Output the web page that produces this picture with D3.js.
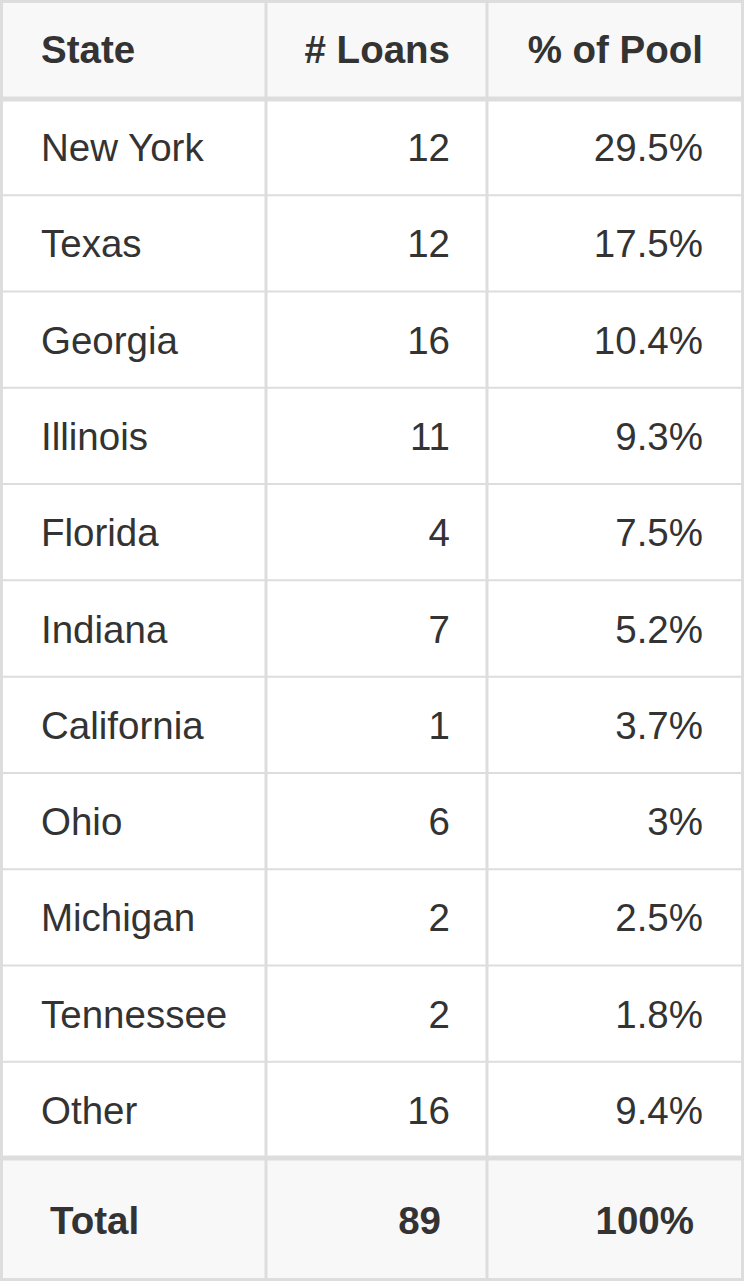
<!DOCTYPE html>
<html>
<head>
<meta charset="utf-8">
<script src="https://cdn.jsdelivr.net/npm/d3@7"></script>
<style>
  body { margin: 0; background: #fff; }
  svg text { font-family: "Liberation Sans", Arial, sans-serif; fill: #333; }
</style>
</head>
<body>
<script>
const headers = ['State', '# Loans', '% of Pool'];
const states = ['New York', 'Texas', 'Georgia', 'Illinois', 'Florida', 'Indiana', 'California', 'Ohio', 'Michigan', 'Tennessee', 'Other'];
const loans = [12, 12, 16, 11, 4, 7, 1, 6, 2, 2, 16];
const pool = ['29.5%', '17.5%', '10.4%', '9.3%', '7.5%', '5.2%', '3.7%', '3%', '2.5%', '1.8%', '9.4%'];
const totals = ['Total', '89', '100%'];

const w = 744, h = 1281;
const headH = 99, footTop = 1158;
const colEdges = [0, 266, 487, 744];
const border = '#ddd';

const svg = d3.select('body').append('svg').attr('width', w).attr('height', h);

const y = d3.scaleBand().domain(d3.range(states.length)).range([headH, footTop]);

// backgrounds
svg.append('rect').attr('x', 0).attr('y', 0).attr('width', w).attr('height', headH).attr('fill', '#f8f8f8');
svg.append('rect').attr('x', 0).attr('y', footTop).attr('width', w).attr('height', h - footTop).attr('fill', '#f8f8f8');

// row lines
svg.selectAll('line.row').data(d3.range(1, states.length)).enter().append('line')
  .attr('x1', 0).attr('x2', w)
  .attr('y1', d => y(d)).attr('y2', d => y(d))
  .attr('stroke', border).attr('stroke-width', 2);

// header / footer thick lines
[headH, footTop].forEach(v => {
  svg.append('line').attr('x1', 0).attr('x2', w).attr('y1', v).attr('y2', v)
    .attr('stroke', border).attr('stroke-width', 5);
});

// column lines
colEdges.slice(1, 3).forEach(x => {
  svg.append('line').attr('x1', x).attr('x2', x).attr('y1', 0).attr('y2', h)
    .attr('stroke', border).attr('stroke-width', 3);
});

// outer border
svg.append('rect').attr('x', 1.5).attr('y', 1.5).attr('width', w - 3).attr('height', h - 3)
  .attr('fill', 'none').attr('stroke', border).attr('stroke-width', 3);

const fs = 38.5;
// left pad for col 0, right edges for cols 1 and 2
const bodyX = [41, 450, 703];
const footX = [50, 441, 694];
function anchor(col) { return col === 0 ? 'start' : 'end'; }

// header
svg.selectAll('text.head').data(headers).enter().append('text')
  .attr('x', (d, i) => bodyX[i]).attr('y', headH / 2 + 13)
  .attr('text-anchor', (d, i) => anchor(i))
  .attr('font-size', fs).attr('font-weight', 'bold').text(d => d);

// body
const rows = states.map((s, i) => [s, String(loans[i]), pool[i]]);
const g = svg.selectAll('g.r').data(rows).enter().append('g')
  .attr('transform', (d, i) => `translate(0,${y(i) + y.bandwidth() / 2 + 14})`);
g.selectAll('text').data(d => d).enter().append('text')
  .attr('x', (d, i) => bodyX[i]).attr('y', 0)
  .attr('text-anchor', (d, i) => anchor(i))
  .attr('font-size', fs).text(d => d);

// footer
svg.selectAll('text.foot').data(totals).enter().append('text')
  .attr('x', (d, i) => footX[i]).attr('y', (footTop + h) / 2 + 14)
  .attr('text-anchor', (d, i) => anchor(i))
  .attr('font-size', fs).attr('font-weight', 'bold').text(d => d);
</script>
</body>
</html>
